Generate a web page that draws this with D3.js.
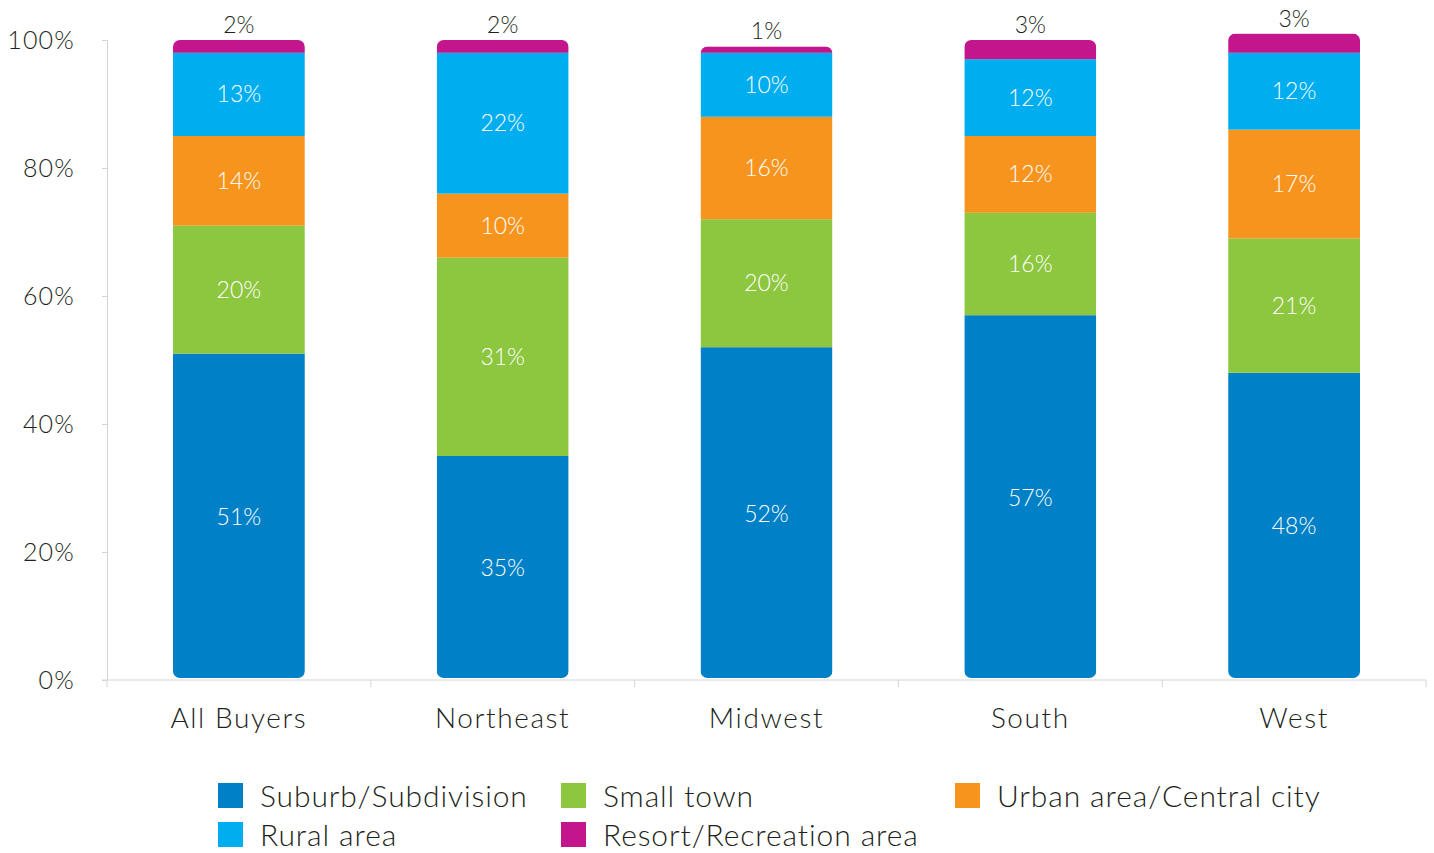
<!DOCTYPE html>
<html>
<head>
<meta charset="utf-8">
<script src="https://cdn.jsdelivr.net/npm/d3@7"></script>
<style>
  body { margin: 0; background: #fff; }
  svg { font-family: Lato, "Open Sans", sans-serif; font-weight: 300; }
</style>
</head>
<body>
<svg id="chart"></svg>
<script>
// chart data
const regions = ["All Buyers", "Northeast", "Midwest", "South", "West"];
const seriesNames = ["Suburb/Subdivision", "Small town", "Urban area/Central city", "Rural area", "Resort/Recreation area"];
const seriesColors = ["#0080c6", "#8dc63f", "#f7941d", "#00aeef", "#c4168c"];
const suburb = [51, 35, 52, 57, 48];
const smallTown = [20, 31, 20, 16, 21];
const urban = [14, 10, 16, 12, 17];
const rural = [13, 22, 10, 12, 12];
const resort = [2, 2, 1, 3, 3];
const yTicks = [0, 20, 40, 60, 80, 100];

const width = 1434;
const height = 853;
const margin = {top: 40, right: 8, bottom: 173, left: 107};

const svg = d3.select("#chart").attr("width", width).attr("height", height);

// table for stacking
const table = regions.map((r, i) => ({
	region: r,
	s0: suburb[i], s1: smallTown[i], s2: urban[i], s3: rural[i], s4: resort[i]
}));
const keys = ["s0", "s1", "s2", "s3", "s4"];
const stacked = d3.stack().keys(keys)(table);

const x = d3.scaleBand().domain(regions)
	.range([margin.left, width - margin.right])
	.paddingInner(0.5).paddingOuter(0.25);
const y = d3.scaleLinear().domain([0, 100]).range([height - margin.bottom, margin.top]);

// y axis
const yAxis = svg.append("g")
	.attr("transform", `translate(${margin.left},0)`)
	.call(d3.axisLeft(y).tickValues(yTicks).tickSize(5).tickPadding(27).tickFormat(d => d + "%"));
yAxis.select(".domain").attr("stroke", "#d4d4d4");
yAxis.selectAll(".tick line").attr("stroke", "#d4d4d4");
yAxis.selectAll(".tick text").attr("font-size", 25).attr("fill", "#231f20")
	.attr("font-family", "Lato, sans-serif").attr("font-weight", 300)
	.attr("letter-spacing", 1.2);

// x axis with ticks at band edges
const xAxisG = svg.append("g").attr("transform", `translate(0,${y(0)})`);
xAxisG.append("line")
	.attr("x1", margin.left - 5).attr("x2", width - margin.right)
	.attr("stroke", "#d4d4d4");
const edges = regions.map(r => x(r) - x.step() * x.paddingInner() / 2)
	.concat([x(regions[regions.length - 1]) + x.bandwidth() + x.step() * x.paddingInner() / 2]);
xAxisG.selectAll("line.edge").data(edges).enter().append("line")
	.attr("class", "edge")
	.attr("x1", d => d).attr("x2", d => d).attr("y1", 0).attr("y2", 7)
	.attr("stroke", "#d4d4d4");
xAxisG.selectAll("text").data(regions).enter().append("text")
	.attr("x", d => x(d) + x.bandwidth() / 2)
	.attr("y", 48)
	.attr("text-anchor", "middle")
	.attr("font-size", 28)
	.attr("letter-spacing", 1.6)
	.attr("fill", "#231f20")
	.text(d => d);

// clip each bar to a rounded rectangle
const defs = svg.append("defs");
table.forEach((d, i) => {
	const total = keys.reduce((a, k) => a + d[k], 0);
	defs.append("clipPath").attr("id", "clip" + i)
		.append("rect")
		.attr("x", x(d.region))
		.attr("y", y(total))
		.attr("width", x.bandwidth())
		.attr("height", y(0) - 2 - y(total))
		.attr("rx", 7);
});

const layers = svg.selectAll("g.layer").data(stacked).enter()
	.append("g").attr("class", "layer")
	.attr("fill", (d, i) => seriesColors[i]);

layers.selectAll("rect").data(d => d).enter()
	.append("rect")
	.attr("clip-path", (d, i) => `url(#clip${i})`)
	.attr("x", d => x(d.data.region))
	.attr("y", d => y(d[1]))
	.attr("width", x.bandwidth())
	.attr("height", d => y(d[0]) - y(d[1]));

// value labels
layers.each(function (layer, li) {
	const g = d3.select(this);
	g.selectAll("text").data(layer).enter()
		.append("text")
		.attr("x", d => x(d.data.region) + x.bandwidth() / 2)
		.attr("y", d => li === 4 ? y(d[1]) - 7 : y((d[0] + d[1]) / 2))
		.attr("dy", li === 4 ? 0 : "0.35em")
		.attr("text-anchor", "middle")
		.attr("font-size", 23)
		.attr("fill", li === 4 ? "#231f20" : "#ffffff")
		.text(d => (d[1] - d[0]) + "%");
});

// legend
const legendPos = [[218, 796], [561, 796], [955, 796], [218, 835], [561, 835]];
const legend = svg.selectAll("g.legend").data(seriesNames).enter()
	.append("g").attr("class", "legend")
	.attr("transform", (d, i) => `translate(${legendPos[i][0]},${legendPos[i][1]})`);
legend.append("rect")
	.attr("x", 0).attr("y", -13).attr("width", 25).attr("height", 25)
	.attr("fill", (d, i) => seriesColors[i]);
legend.append("text")
	.attr("x", 42).attr("y", 0).attr("dy", "0.35em")
	.attr("font-size", 30)
	.attr("letter-spacing", 0.9)
	.attr("fill", "#231f20")
	.text(d => d);
</script>
</body>
</html>
